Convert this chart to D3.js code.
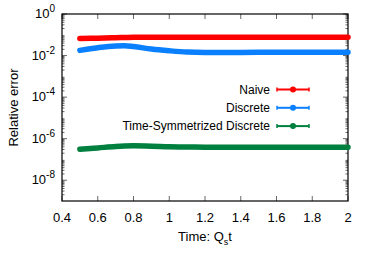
<!DOCTYPE html>
<html>
<head>
<meta charset="utf-8">
<script src="https://cdn.jsdelivr.net/npm/d3@7"></script>
<style>
  body { margin: 0; background: #fff; }
  text { font-family: "Liberation Sans", Arial, sans-serif; fill: #000; }
</style>
</head>
<body>
<div id="chart"></div>
<script>
// data
var times = [0.5, 0.6, 0.7, 0.75, 0.8, 0.9, 1.0, 1.1, 1.2, 1.4, 1.6, 1.8, 2.0];
var naive = [0.067, 0.069, 0.072, 0.074, 0.076, 0.077, 0.077, 0.076, 0.076, 0.076, 0.076, 0.076, 0.076];
var discrete = [0.0178, 0.024, 0.029, 0.0295, 0.027, 0.0205, 0.017, 0.0148, 0.0142, 0.0142, 0.0143, 0.0144, 0.0145];
var symmetrized = [3.1e-7, 3.6e-7, 4.2e-7, 4.4e-7, 4.5e-7, 4.35e-7, 4.05e-7, 3.95e-7, 3.9e-7, 3.9e-7, 3.9e-7, 3.9e-7, 3.9e-7];

var seriesNames = ["Naive", "Discrete", "Time-Symmetrized Discrete"];
var seriesColors = ["#ff0000", "#0a80ff", "#00803e"];
var xTicks = [0.4, 0.6, 0.8, 1, 1.2, 1.4, 1.6, 1.8, 2];
var yExponents = [0, -2, -4, -6, -8];

var series = [naive, discrete, symmetrized];

var margin = {top: 14, right: 26, bottom: 61, left: 62},
  width = 374 - margin.left - margin.right,
  height = 262 - margin.top - margin.bottom;

var svg = d3.select("#chart")
  .append("svg")
    .attr("width", 374)
    .attr("height", 262)
  .append("g")
    .attr("transform", "translate(" + margin.left + "," + margin.top + ")");

var x = d3.scaleLinear().domain([0.4, 2]).range([0, width]);
var y = d3.scaleLog().domain([1e-9, 1]).range([height, 0]);

// minor log ticks, 2..9 per decade
var minor = [];
for (var e = -9; e < 0; e++) {
  for (var m = 2; m <= 9; m++) minor.push(m * Math.pow(10, e));
}

var ticks = svg.append("g").attr("stroke", "#000").attr("stroke-width", 0.6);
minor.forEach(function(v) {
  ticks.append("line").attr("x1", 0).attr("x2", 2.5).attr("y1", y(v)).attr("y2", y(v));
  ticks.append("line").attr("x1", width).attr("x2", width - 2.5).attr("y1", y(v)).attr("y2", y(v));
});
yExponents.forEach(function(p) {
  var v = Math.pow(10, p);
  ticks.append("line").attr("x1", 0).attr("x2", 5).attr("y1", y(v)).attr("y2", y(v));
  ticks.append("line").attr("x1", width).attr("x2", width - 5).attr("y1", y(v)).attr("y2", y(v));
});
xTicks.forEach(function(v) {
  ticks.append("line").attr("x1", x(v)).attr("x2", x(v)).attr("y1", height).attr("y2", height - 5);
  ticks.append("line").attr("x1", x(v)).attr("x2", x(v)).attr("y1", 0).attr("y2", 5);
});

// frame
svg.append("rect")
  .attr("width", width).attr("height", height)
  .attr("fill", "none").attr("stroke", "#000").attr("stroke-width", 1.2);

// x tick labels
svg.selectAll(".xlab")
  .data(xTicks).enter()
  .append("text")
    .attr("x", function(d) { return x(d); })
    .attr("y", height + 21)
    .attr("text-anchor", "middle")
    .style("font-size", "13px")
    .text(function(d) { return d; });

// y tick labels: 10^p
var ylab = svg.selectAll(".ylab")
  .data(yExponents).enter()
  .append("text")
    .attr("x", -7)
    .attr("y", function(d) { return y(Math.pow(10, d)) + 4; })
    .attr("text-anchor", "end")
    .style("font-size", "13px");
ylab.append("tspan").text("10");
ylab.append("tspan")
  .attr("dy", -6)
  .style("font-size", "10px")
  .text(function(d) { return d; });

// axis titles
svg.append("text")
  .attr("transform", "translate(-44," + (height / 2) + ") rotate(-90)")
  .attr("text-anchor", "middle")
  .style("font-size", "13px")
  .text("Relative error");

var xt = svg.append("text")
  .attr("x", width / 2)
  .attr("y", height + 40)
  .attr("text-anchor", "middle")
  .style("font-size", "13px");
xt.append("tspan").text("Time: Q");
xt.append("tspan").attr("dy", 4).style("font-size", "9px").text("s");
xt.append("tspan").attr("dy", -4).text("t");

// the curves
var line = d3.line()
  .x(function(d) { return x(d[0]); })
  .y(function(d) { return y(d[1]); })
  .curve(d3.curveMonotoneX);

series.forEach(function(vals, i) {
  svg.append("path")
    .datum(times.map(function(t, j) { return [t, vals[j]]; }))
    .attr("d", line)
    .attr("fill", "none")
    .attr("stroke", seriesColors[i])
    .attr("stroke-width", 5.5)
    .attr("stroke-linecap", "round");
});

// legend
var legend = svg.selectAll(".legend")
  .data(seriesNames).enter()
  .append("g")
    .attr("transform", function(d, i) { return "translate(0," + (75.5 + i * 18.3) + ")"; });

legend.append("text")
  .attr("x", 208)
  .attr("y", 4)
  .attr("text-anchor", "end")
  .style("font-size", "12px")
  .text(function(d) { return d; });
legend.append("line")
  .attr("x1", 215).attr("x2", 247)
  .attr("stroke", function(d, i) { return seriesColors[i]; })
  .attr("stroke-width", 2);
legend.append("line")
  .attr("x1", 215).attr("x2", 215).attr("y1", -2).attr("y2", 2)
  .attr("stroke", function(d, i) { return seriesColors[i]; })
  .attr("stroke-width", 1.5);
legend.append("line")
  .attr("x1", 247).attr("x2", 247).attr("y1", -2).attr("y2", 2)
  .attr("stroke", function(d, i) { return seriesColors[i]; })
  .attr("stroke-width", 1.5);
legend.append("circle")
  .attr("cx", 231)
  .attr("r", 3)
  .attr("fill", function(d, i) { return seriesColors[i]; });
</script>
</body>
</html>
